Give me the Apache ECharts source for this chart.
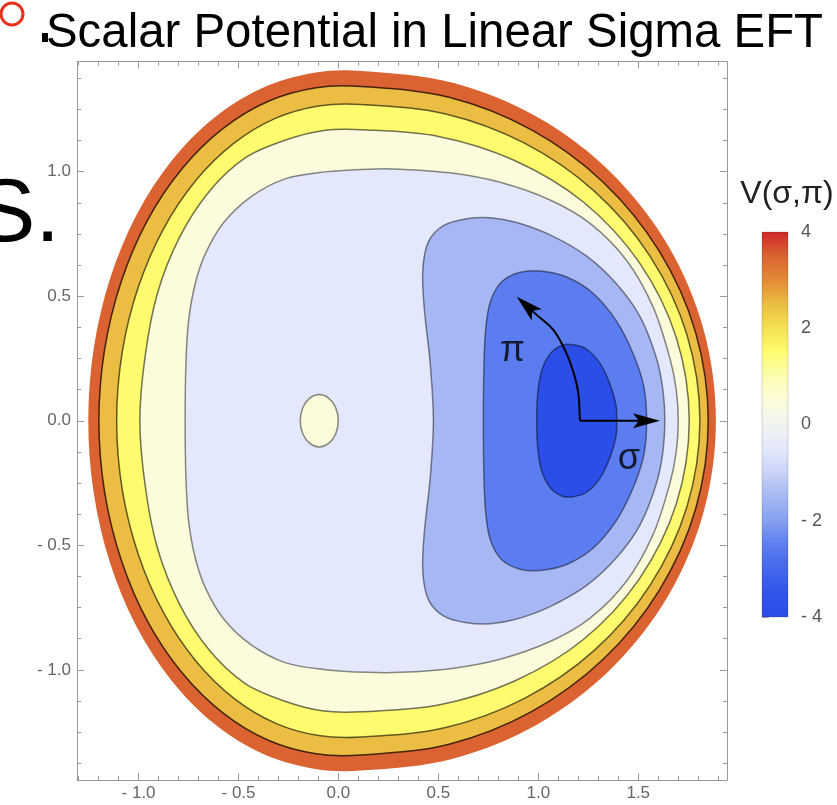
<!DOCTYPE html>
<html><head><meta charset="utf-8">
<script src="https://cdn.jsdelivr.net/npm/echarts@6/dist/echarts.min.js"></script>
<style>html,body{margin:0;padding:0;background:#fff}#c{width:837px;height:805px}</style>
</head><body><div id="c"></div>
<script>
// ---- axis ranges & ticks ----
const X_MIN = -1.308, X_MAX = 1.944;
const Y_MIN = -1.442, Y_MAX = 1.442;
const CB_MIN = -4, CB_MAX = 4;

// ---- contour levels and band colours ----
const levels = [4, 3, 2, 1, 0, -1, -2, -3];
const bandColors = ['#DA6331', '#EBBD42', '#FEFC6E', '#FCFCDC', '#E3E8FB', '#A6B7F3', '#5B7DEF', '#2B4DE8'];
const lineColors = [null, 'rgba(30,8,0,0.8)', 'rgba(0,0,0,0.6)', 'rgba(0,0,0,0.55)', 'rgba(0,0,0,0.45)', 'rgba(0,0,0,0.45)', 'rgba(0,0,0,0.45)', 'rgba(0,0,0,0.45)'];

// ---- contour curves (sigma, pi) ----
const contourV4 = [[1.8885,0],[1.828,0.363],[1.6505,0.7018],[1.3685,0.9928],[1.001,1.2159],[0.573,1.3564],[0.1135,1.4043],[-0.123,1.3966],[-0.381,1.3355],[-0.6215,1.216],[-0.8345,1.0433],[-1.011,0.825],[-1.1425,0.5705],[-1.224,0.2916],[-1.2515,0],
  [-1.224,-0.2916],[-1.1425,-0.5705],[-1.011,-0.825],[-0.8345,-1.0433],[-0.6215,-1.216],[-0.381,-1.3355],[-0.123,-1.3966],[0.1135,-1.4043],[0.573,-1.3564],[1.001,-1.2159],[1.3685,-0.9928],[1.6505,-0.7018],[1.828,-0.363]];
const contourV3 = [[1.850,0],[1.787,0.3542],[1.605,0.6805],[1.3245,0.9575],[0.966,1.1674],[0.5535,1.2982],[0.1135,1.342],[-0.112,1.337],[-0.351,1.2826],[-0.5785,1.1726],[-0.7835,1.0108],[-0.957,0.8025],[-1.0875,0.5565],[-1.170,0.2852],[-1.1985,0],
  [-1.170,-0.2852],[-1.0875,-0.5565],[-0.957,-0.8025],[-0.7835,-1.0108],[-0.5785,-1.1726],[-0.351,-1.2826],[-0.112,-1.337],[0.1135,-1.342],[0.5535,-1.2982],[0.966,-1.1674],[1.3245,-0.9575],[1.605,-0.6805],[1.787,-0.3542]];
const contourV2 = [[1.8085,0],[1.7435,0.345],[1.5595,0.6596],[1.280,0.9217],[0.9285,1.1152],[0.5315,1.2324],[0.1135,1.2697],[-0.099,1.2637],[-0.313,1.2147],[-0.521,1.1152],[-0.7125,0.9651],[-0.8765,0.7684],[-1.002,0.5344],[-1.082,0.2743],[-1.1095,0],
  [-1.082,-0.2743],[-1.002,-0.5344],[-0.8765,-0.7684],[-0.7125,-0.9651],[-0.521,-1.1152],[-0.313,-1.2147],[-0.099,-1.2637],[0.1135,-1.2697],[0.5315,-1.2324],[0.9285,-1.1152],[1.280,-0.9217],[1.5595,-0.6596],[1.7435,-0.345]];
const contourV1 = [[1.755,0],[1.6905,0.3333],[1.5055,0.6344],[1.2255,0.878],[0.8785,1.0458],[0.501,1.1413],[0.1135,1.168],[-0.0805,1.1642],[-0.264,1.1268],[-0.4665,1.055],[-0.6465,0.9205],[-0.7965,0.7339],[-0.9065,0.5091],[-0.967,0.2599],[-0.9935,0],
  [-0.967,-0.2599],[-0.9065,-0.5091],[-0.7965,-0.7339],[-0.6465,-0.9205],[-0.4665,-1.055],[-0.264,-1.1268],[-0.0805,-1.1642],[0.1135,-1.168],[0.501,-1.1413],[0.8785,-1.0458],[1.2255,-0.878],[1.5055,-0.6344],[1.6905,-0.3333]];
const contourV0 = [[1.700,0],[1.690,0.125],[1.659,0.249],[1.575,0.455],[1.442,0.643],[1.259,0.792],[1.059,0.886],[0.809,0.957],[0.559,0.995],[0.309,1.010],[0.150,1.010],[-0.067,0.999],[-0.267,0.971],[-0.440,0.898],[-0.575,0.795],[-0.665,0.672],[-0.717,0.549],[-0.750,0.399],[-0.763,0.230],[-0.767,0],
  [-0.763,-0.230],[-0.750,-0.399],[-0.717,-0.549],[-0.665,-0.672],[-0.575,-0.795],[-0.440,-0.898],[-0.267,-0.971],[-0.067,-0.999],[0.150,-1.010],[0.309,-1.010],[0.559,-0.995],[0.809,-0.957],[1.059,-0.886],[1.259,-0.792],[1.442,-0.643],[1.575,-0.455],[1.659,-0.249],[1.690,-0.125]];
const contourBump = [[-0.001,0],[-0.014,0.053],[-0.049,0.091],[-0.096,0.105],[-0.143,0.091],[-0.178,0.053],[-0.191,0],[-0.178,-0.053],[-0.143,-0.091],[-0.096,-0.105],[-0.049,-0.091],[-0.014,-0.053]];
const contourVm1 = [[1.633,0],[1.624,0.12],[1.592,0.249],[1.509,0.418],[1.392,0.549],[1.242,0.661],[1.059,0.746],[0.892,0.796],[0.759,0.815],[0.642,0.811],[0.525,0.783],[0.450,0.718],[0.422,0.605],[0.429,0.455],[0.459,0.230],[0.475,0],
  [0.459,-0.230],[0.429,-0.455],[0.422,-0.605],[0.450,-0.718],[0.525,-0.783],[0.642,-0.811],[0.759,-0.815],[0.892,-0.796],[1.059,-0.746],[1.242,-0.661],[1.392,-0.549],[1.509,-0.418],[1.592,-0.249],[1.624,-0.12]];
const contourVm2 = [[1.542,0],[1.528,0.137],[1.475,0.268],[1.392,0.399],[1.275,0.511],[1.142,0.577],[1.009,0.601],[0.909,0.596],[0.817,0.558],[0.762,0.483],[0.738,0.380],[0.728,0.230],[0.725,0],
  [0.728,-0.230],[0.738,-0.380],[0.762,-0.483],[0.817,-0.558],[0.909,-0.596],[1.009,-0.601],[1.142,-0.577],[1.275,-0.511],[1.392,-0.399],[1.475,-0.268],[1.528,-0.137]];
const contourVm3 = [[1.392,0],[1.389,0.062],[1.359,0.146],[1.309,0.230],[1.242,0.287],[1.175,0.305],[1.117,0.302],[1.059,0.268],[1.017,0.202],[0.997,0.109],[0.992,0],
  [0.997,-0.109],[1.017,-0.202],[1.059,-0.268],[1.117,-0.302],[1.175,-0.305],[1.242,-0.287],[1.309,-0.230],[1.359,-0.146],[1.389,-0.062]];

// ---- annotation arrows and labels ----
const sigmaArrow = [[1.2085,0],[1.6085,0]];
const piArrow = [[1.2085,0],[1.200,0.111],[1.175,0.197],[1.1335,0.284],[1.075,0.365],[0.992,0.425],[0.892,0.498]];
const arrowLabels = [{name:'π', value:[0.871,0.278]}, {name:'σ', value:[1.4535,-0.152]}];

// ---- colour bar ----
const cbValues = [4, 3.5, 3, 2.5, 2, 1.5, 1, 0.5, 0, -0.5, -1, -1.5, -2, -2.5, -3, -3.5, -4];
const cbColors = ['#D02828','#DA6331','#E38A37','#EBBD42','#F3E24F','#FEFC6E','#FDFDB0','#FCFCDC','#F1F3F1','#E3E8FB','#C9D3F7','#A6B7F3','#86A0F1','#5B7DEF','#4466EC','#3254EA','#2B4BE8'];

// drawing order: outer to inner
const CONTOURS = [
  {pts: contourV4, fill: bandColors[0], stroke: lineColors[0]},
  {pts: contourV3, fill: bandColors[1], stroke: lineColors[1]},
  {pts: contourV2, fill: bandColors[2], stroke: lineColors[2]},
  {pts: contourV1, fill: bandColors[3], stroke: lineColors[3]},
  {pts: contourV0, fill: bandColors[4], stroke: lineColors[4]},
  {pts: contourBump, fill: bandColors[3], stroke: lineColors[4]},
  {pts: contourVm1, fill: bandColors[5], stroke: lineColors[5]},
  {pts: contourVm2, fill: bandColors[6], stroke: lineColors[6]},
  {pts: contourVm3, fill: bandColors[7], stroke: lineColors[7]}
];
const ARROWS = [sigmaArrow, piArrow];

// smooth curve through pixel points (chord-length weighted cubic Bezier)
function smoothPath(pts, closed) {
  const n = pts.length;
  const get = i => closed ? pts[(i + n) % n] : pts[Math.max(0, Math.min(n - 1, i))];
  const dist = (a, b) => Math.hypot(a[0] - b[0], a[1] - b[1]) || 1e-6;
  const tangent = i => {
    const p0 = get(i - 1), p1 = get(i), p2 = get(i + 1);
    const s = dist(p0, p1) + dist(p1, p2);
    return [(p2[0] - p0[0]) / s, (p2[1] - p0[1]) / s];
  };
  let d = 'M' + pts[0][0].toFixed(2) + ' ' + pts[0][1].toFixed(2);
  const segs = closed ? n : n - 1;
  for (let i = 0; i < segs; i++) {
    const a = get(i), b = get(i + 1);
    const L = dist(a, b);
    const ta = tangent(i), tb = tangent(i + 1);
    d += ' C' + (a[0] + ta[0] * L / 3).toFixed(2) + ' ' + (a[1] + ta[1] * L / 3).toFixed(2) + ' ' +
      (b[0] - tb[0] * L / 3).toFixed(2) + ' ' + (b[1] - tb[1] * L / 3).toFixed(2) + ' ' +
      b[0].toFixed(2) + ' ' + b[1].toFixed(2);
  }
  if (closed) d += ' Z';
  return d;
}

const chart = echarts.init(document.getElementById('c'), null, {renderer: 'canvas'});
const FONT = '"Liberation Sans", Arial, sans-serif';
const frameColor = '#9a9a9a';
const fmt = v => (v < 0 ? '- ' : '') + Math.abs(v).toFixed(1);
const cbFmt = v => (v < 0 ? '- ' : '') + Math.abs(v);

function frameAxis(extra) {
  return Object.assign({
    type: 'value', gridIndex: 0,
    minInterval: 0.5, maxInterval: 0.5,
    axisLine: {show: true, onZero: false, lineStyle: {color: frameColor, width: 1}},
    axisTick: {show: true, inside: true, length: 7, lineStyle: {color: frameColor}},
    splitLine: {show: false},
    axisLabel: {show: false}
  }, extra);
}

const cbStops = cbValues.map((v, i) => ({offset: (CB_MAX - v) / (CB_MAX - CB_MIN), color: cbColors[i]}));

chart.setOption({
  animation: false,
  backgroundColor: '#fff',
  grid: [
    {left: 77, right: 110, top: 61.5, bottom: 25, outerBoundsMode: 'none', containLabel: false},
    {left: 762, width: 26, top: 232, height: 385, outerBoundsMode: 'none', containLabel: false}
  ],
  xAxis: [
    frameAxis({position: 'bottom', min: X_MIN, max: X_MAX,
      minorTick: {show: true, splitNumber: 5, length: 4, lineStyle: {color: frameColor}},
      axisLabel: {show: true, formatter: fmt, color: '#666', fontSize: 17, fontFamily: FONT, margin: 5, showMinLabel: false, showMaxLabel: false}}),
    frameAxis({position: 'top', min: X_MIN, max: X_MAX,
      minorTick: {show: true, splitNumber: 5, length: 4, lineStyle: {color: frameColor}}}),
    {type: 'value', gridIndex: 1, min: 0, max: 1, show: false}
  ],
  yAxis: [
    frameAxis({position: 'left', min: Y_MIN, max: Y_MAX,
      minorTick: {show: true, splitNumber: 4, length: 4, lineStyle: {color: frameColor}},
      axisLabel: {show: true, formatter: fmt, color: '#666', fontSize: 17, fontFamily: FONT, margin: 6, showMinLabel: false, showMaxLabel: false}}),
    frameAxis({position: 'right', min: Y_MIN, max: Y_MAX,
      minorTick: {show: true, splitNumber: 4, length: 4, lineStyle: {color: frameColor}}}),
    {type: 'value', gridIndex: 1, position: 'right', min: CB_MIN, max: CB_MAX, interval: 2,
      axisLine: {show: false},
      axisTick: {show: true, inside: false, length: 7, lineStyle: {color: '#aaa'}},
      minorTick: {show: true, splitNumber: 4, length: 4, lineStyle: {color: '#aaa'}},
      splitLine: {show: false},
      axisLabel: {formatter: cbFmt, color: '#555', fontSize: 18, fontFamily: FONT, margin: 13}}
  ],
  series: [
    {
      type: 'custom', name: 'V', xAxisIndex: 0, yAxisIndex: 0, z: 2,
      encode: {x: 0, y: 1},
      data: CONTOURS.map((c, i) => [c.pts[0][0], c.pts[0][1], i]),
      renderItem: function (params, api) {
        const c = CONTOURS[api.value(2)];
        const pts = c.pts.map(p => api.coord(p));
        return {
          type: 'path',
          shape: {pathData: smoothPath(pts, true)},
          style: {fill: c.fill, stroke: c.stroke || null, lineWidth: c.stroke ? 1.5 : 0}
        };
      }
    },
    {
      type: 'custom', name: 'arrows', xAxisIndex: 0, yAxisIndex: 0, z: 5,
      encode: {x: 0, y: 1},
      data: ARROWS.map((a, i) => [a[0][0], a[0][1], i]),
      renderItem: function (params, api) {
        const pts = ARROWS[api.value(2)].map(p => api.coord(p));
        const n = pts.length;
        const tip = pts[n - 1], prev = pts[n - 2];
        let dx = tip[0] - prev[0], dy = tip[1] - prev[1];
        const L = Math.hypot(dx, dy); dx /= L; dy /= L;
        const len = 27, half = 7.5, notch = 6;
        const bx = tip[0] - dx * len, by = tip[1] - dy * len;
        const nx = -dy, ny = dx;
        const head = [tip, [bx + nx * half, by + ny * half], [tip[0] - dx * (len - notch), tip[1] - dy * (len - notch)], [bx - nx * half, by - ny * half]];
        const linePts = pts.slice(0, n - 1).concat([[tip[0] - dx * 12, tip[1] - dy * 12]]);
        return {type: 'group', children: [
          {type: 'path', shape: {pathData: smoothPath(linePts, false)}, style: {stroke: '#000', lineWidth: 2, fill: 'none'}},
          {type: 'polygon', shape: {points: head}, style: {fill: '#000'}}
        ]};
      }
    },
    {
      type: 'scatter', name: 'labels', xAxisIndex: 0, yAxisIndex: 0, z: 6,
      symbolSize: 0, data: arrowLabels, silent: true,
      label: {show: true, position: 'inside', formatter: '{b}', color: '#000', fontSize: 36, fontFamily: FONT}
    },
    {
      type: 'custom', name: 'colorbar', xAxisIndex: 2, yAxisIndex: 2, z: 2,
      encode: {x: 0, y: 1},
      data: [[0, 0]],
      renderItem: function (params, api) {
        const p0 = api.coord([0, CB_MAX]), p1 = api.coord([1, CB_MIN]);
        return {type: 'rect', shape: {x: p0[0], y: p0[1], width: p1[0] - p0[0], height: p1[1] - p0[1]},
          style: {fill: new echarts.graphic.LinearGradient(0, 0, 0, 1, cbStops), stroke: 'rgba(0,0,0,0.25)', lineWidth: 0.6}};
      }
    }
  ],
  graphic: [
    {type: 'circle', shape: {cx: 12, cy: 14, r: 11}, style: {fill: 'none', stroke: '#E8301C', lineWidth: 3}},
    {type: 'rect', shape: {x: 42, y: 33, width: 6, height: 9}, style: {fill: '#000'}},
    {type: 'text', x: 46, y: 33.5, style: {text: 'Scalar Potential in Linear Sigma EFT', font: '47.4px ' + FONT, fill: '#000', verticalAlign: 'middle'}},
    {type: 'text', x: -24, y: 216, style: {text: 'S.', font: '89px ' + FONT, fill: '#000', verticalAlign: 'middle'}},
    {type: 'text', x: 787, y: 194, style: {text: 'V(σ,π)', font: '32px ' + FONT, fill: '#222', align: 'center', verticalAlign: 'middle'}}
  ]
});
</script>
</body></html>
